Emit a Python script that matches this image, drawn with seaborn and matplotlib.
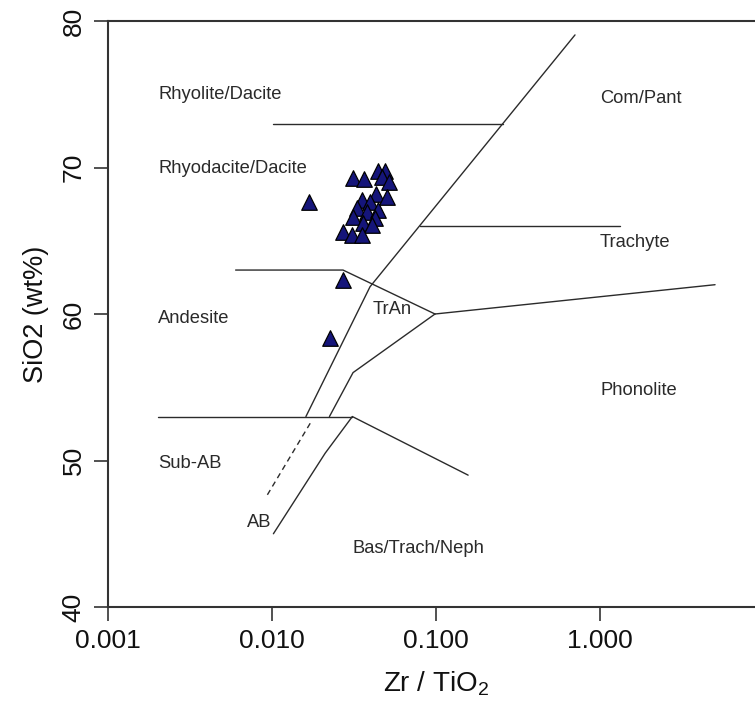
import numpy as np
import pandas as pd
import matplotlib
matplotlib.use("Agg")
import matplotlib.pyplot as plt
import seaborn as sns

sns.set_theme(style="white")
plt.rcParams["font.family"] = ["Liberation Sans", "DejaVu Sans"]
plt.rcParams["mathtext.fontset"] = "custom"
plt.rcParams["mathtext.rm"] = "Liberation Sans"
plt.rcParams["mathtext.default"] = "regular"

# campioni (Zr/TiO2, SiO2 wt%)
zr_tio2 = [0.01688, 0.02698, 0.02258,
           0.03104, 0.03639, 0.04448, 0.04887, 0.04665, 0.05190,
           0.04306, 0.05005, 0.03524, 0.03959, 0.03284, 0.03780,
           0.04448, 0.04246, 0.03130, 0.03603, 0.04054, 0.02721,
           0.03062, 0.03524]
sio2 = [67.67, 62.32, 58.34,
        69.30, 69.22, 69.76, 69.76, 69.37, 69.03,
        68.17, 68.01, 67.78, 67.67, 67.21, 66.98,
        67.10, 66.53, 66.64, 66.19, 66.08, 65.62,
        65.39, 65.39]

# limiti del diagramma (Winchester & Floyd)
rhy_x, rhy_y = [0.0101, 0.257], [73, 73]
alk_x, alk_y = [0.0161, 0.0396, 0.704], [53, 61.86, 79.05]
and_x, and_y = [0.006, 0.0271, 0.0986], [63, 63, 60]
pho_x, pho_y = [0.0986, 5.03], [60, 62]
tra_x, tra_y = [0.0799, 1.32], [66, 66]
tran_x, tran_y = [0.0986, 0.0312, 0.0224], [60, 56, 53]
sub_x, sub_y = [0.00202, 0.0309], [53, 53]
btn_x, btn_y = [0.0309, 0.157], [53, 49]
ab_x, ab_y = [0.0309, 0.0211, 0.0102], [53, 50.5, 45]
dash_x, dash_y = [0.0171, 0.00918], [52.54, 47.49]

labels = ["Rhyolite/Dacite", "Rhyodacite/Dacite", "Andesite", "Sub-AB", "AB",
          "TrAn", "Bas/Trach/Neph", "Com/Pant", "Trachyte", "Phonolite"]
label_x = [0.00202, 0.00202, 0.00202, 0.00202, 0.00704, 0.0411, 0.0308, 1.0, 1.0, 1.0]
label_y = [75.0, 69.9, 59.7, 49.8, 45.8, 60.3, 44.0, 74.7, 64.9, 54.8]

x_ticks = [0.001, 0.01, 0.1, 1.0]
y_ticks = [40, 50, 60, 70, 80]

fig = plt.figure(figsize=(7.55, 7.04), dpi=100)
ax = fig.add_axes([108 / 755, 97 / 704, 656 / 755, 586 / 704])
ax.set_xscale("log")

line_col = "#2b2b2b"
solid = [(rhy_x, rhy_y), (alk_x, alk_y), (and_x, and_y), (pho_x, pho_y),
         (tra_x, tra_y), (tran_x, tran_y), (sub_x, sub_y), (btn_x, btn_y),
         (ab_x, ab_y)]
for xs, ys in solid:
    sns.lineplot(x=xs, y=ys, sort=False, estimator=None, color=line_col,
                 lw=1.0, ax=ax)
sns.lineplot(x=dash_x, y=dash_y, sort=False, estimator=None, color=line_col,
             lw=1.0, ax=ax, linestyle=(0, (4, 3)))

df = pd.DataFrame({"zr_tio2": zr_tio2, "sio2": sio2})
sns.scatterplot(data=df, x="zr_tio2", y="sio2", marker="^", s=125,
                color="#15157a", edgecolor="black", linewidth=0.9, ax=ax,
                zorder=3)

for lab, lx, ly in zip(labels, label_x, label_y):
    ax.text(lx, ly, lab, ha="left", va="center", fontsize=13.2, color="#2a2a2a")

ax.set_xlim(0.001, 10)
ax.set_ylim(40, 80)
ax.set_xticks(x_ticks)
ax.set_xticklabels([f"{v:.3f}" for v in x_ticks])
ax.xaxis.set_minor_locator(matplotlib.ticker.NullLocator())
ax.set_yticks(y_ticks)
ax.set_yticklabels([str(v) for v in y_ticks], rotation=90, va="center")

ax.tick_params(axis="both", which="major", direction="out", length=10,
               width=1.2, color="#333333", labelsize=19, labelcolor="#111111",
               pad=6, left=True, bottom=True)

for side in ["left", "top", "bottom"]:
    ax.spines[side].set_color("#333333")
    ax.spines[side].set_linewidth(1.5)
ax.spines["right"].set_visible(False)

ax.set_xlabel("Zr / TiO$_2$", fontsize=20, color="#111111", labelpad=12)
ax.set_ylabel("SiO2 (wt%)", fontsize=19.5, color="#111111", labelpad=9)

fig.savefig("out.png", dpi=100)
